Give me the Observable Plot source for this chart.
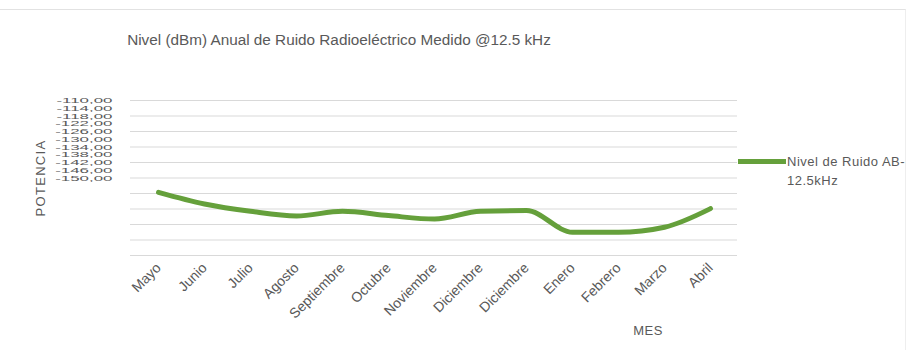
<!DOCTYPE html>
<html>
<head>
<meta charset="utf-8">
<script src="https://cdn.jsdelivr.net/npm/d3@7"></script>
<script src="https://cdn.jsdelivr.net/npm/@observablehq/plot@0.6"></script>
<style>
  body { margin: 0; background: #fff; }
  #wrap { position: relative; width: 920px; height: 355px; overflow: hidden; font-family: "Liberation Sans", Arial, sans-serif; color: #595959; }
  #border { position: absolute; left: 0; top: 9px; width: 905px; height: 340px; border-top: 1px solid #e2e2e2; border-right: 1px solid #eeeeee; }
  #title { position: absolute; left: 0; top: 31px; width: 678px; text-align: center; font-size: 15.3px; }
  #ytitle { position: absolute; left: 40px; top: 178px; transform: translate(-50%, -50%) rotate(-90deg); font-size: 13px; letter-spacing: 1.3px; white-space: nowrap; }
  #xtitle { position: absolute; left: 648px; top: 330px; transform: translate(-50%, -50%); font-size: 13px; letter-spacing: 0.5px; }
  #legend { position: absolute; left: 738px; top: 152px; font-size: 13px; line-height: 19px; letter-spacing: 0.5px; }
  #legend .sw { position: absolute; left: 0; top: 7px; width: 48px; height: 5px; background: #65a03b; }
  #legend .tx { position: absolute; left: 49px; top: 0; width: 150px; }
  #chart { position: absolute; left: 0; top: 0; }
</style>
</head>
<body>
<div id="wrap">
  <div id="border"></div>
  <div id="chart"></div>
  <div id="title">Nivel (dBm) Anual de Ruido Radioeléctrico Medido @12.5 kHz</div>
  <div id="ytitle">POTENCIA</div>
  <div id="xtitle">MES</div>
  <div id="legend"><div class="sw"></div><div class="tx">Nivel de Ruido AB-<br>12.5kHz</div></div>
</div>
<script>
const months = ["Mayo", "Junio", "Julio", "Agosto", "Septiembre", "Octubre", "Noviembre", "Diciembre", "Diciembre", "Enero", "Febrero", "Marzo", "Abril"];
const noise = [-133.7, -136.7, -138.6, -139.8, -138.6, -139.7, -140.6, -138.6, -138.4, -144.0, -144.0, -142.7, -137.9];
const yTicks = [-110, -114, -118, -122, -126, -130, -134, -138, -142, -146, -150];

const data = months.map((m, i) => ({i, month: m, value: noise[i]}));
const fmt = v => v.toFixed(2).replace(".", ",");

const plot = Plot.plot({
  width: 920,
  height: 355,
  marginLeft: 130,
  marginRight: 183,
  marginTop: 100,
  marginBottom: 100,
  style: {fontFamily: '"Liberation Sans", Arial, sans-serif', color: "#595959", background: "transparent"},
  x: {type: "point", domain: months.map((m, i) => i), padding: 0.5},
  y: {domain: [-150, -110], axis: null},
  marks: [
    Plot.gridY(yTicks, {stroke: "#d9d9d9", strokeOpacity: 1, strokeWidth: 1}),
    Plot.text(yTicks, {
      y: d => -110 + (d + 110) / 2,
      text: fmt,
      frameAnchor: "left",
      textAnchor: "end",
      dx: -18,
      fontSize: 13,
      fill: "#595959",
      className: "ylab"
    }),
    Plot.axisX({
      tickFormat: i => months[i],
      tickRotate: -45,
      tickSize: 0,
      tickPadding: 10,
      fontSize: 14,
      label: null,
      fill: "#595959"
    }),
    Plot.line(data, {x: "i", y: "value", stroke: "#65a03b", strokeWidth: 5, curve: "monotone-x"})
  ]
});
// the reference's y tick labels are squeezed vertically and stretched horizontally
d3.select(plot).selectAll(".ylab text").each(function() {
  const t = this.getAttribute("transform");
  if (t) {
    this.setAttribute("transform", t + " scale(1.3,0.6)");
  } else {
    const x = this.getAttribute("x") || 0, y = this.getAttribute("y") || 0;
    this.removeAttribute("x"); this.removeAttribute("y");
    this.setAttribute("transform", `translate(${x},${y}) scale(1.3,0.6)`);
  }
});
document.getElementById("chart").appendChild(plot);
</script>
</body>
</html>
